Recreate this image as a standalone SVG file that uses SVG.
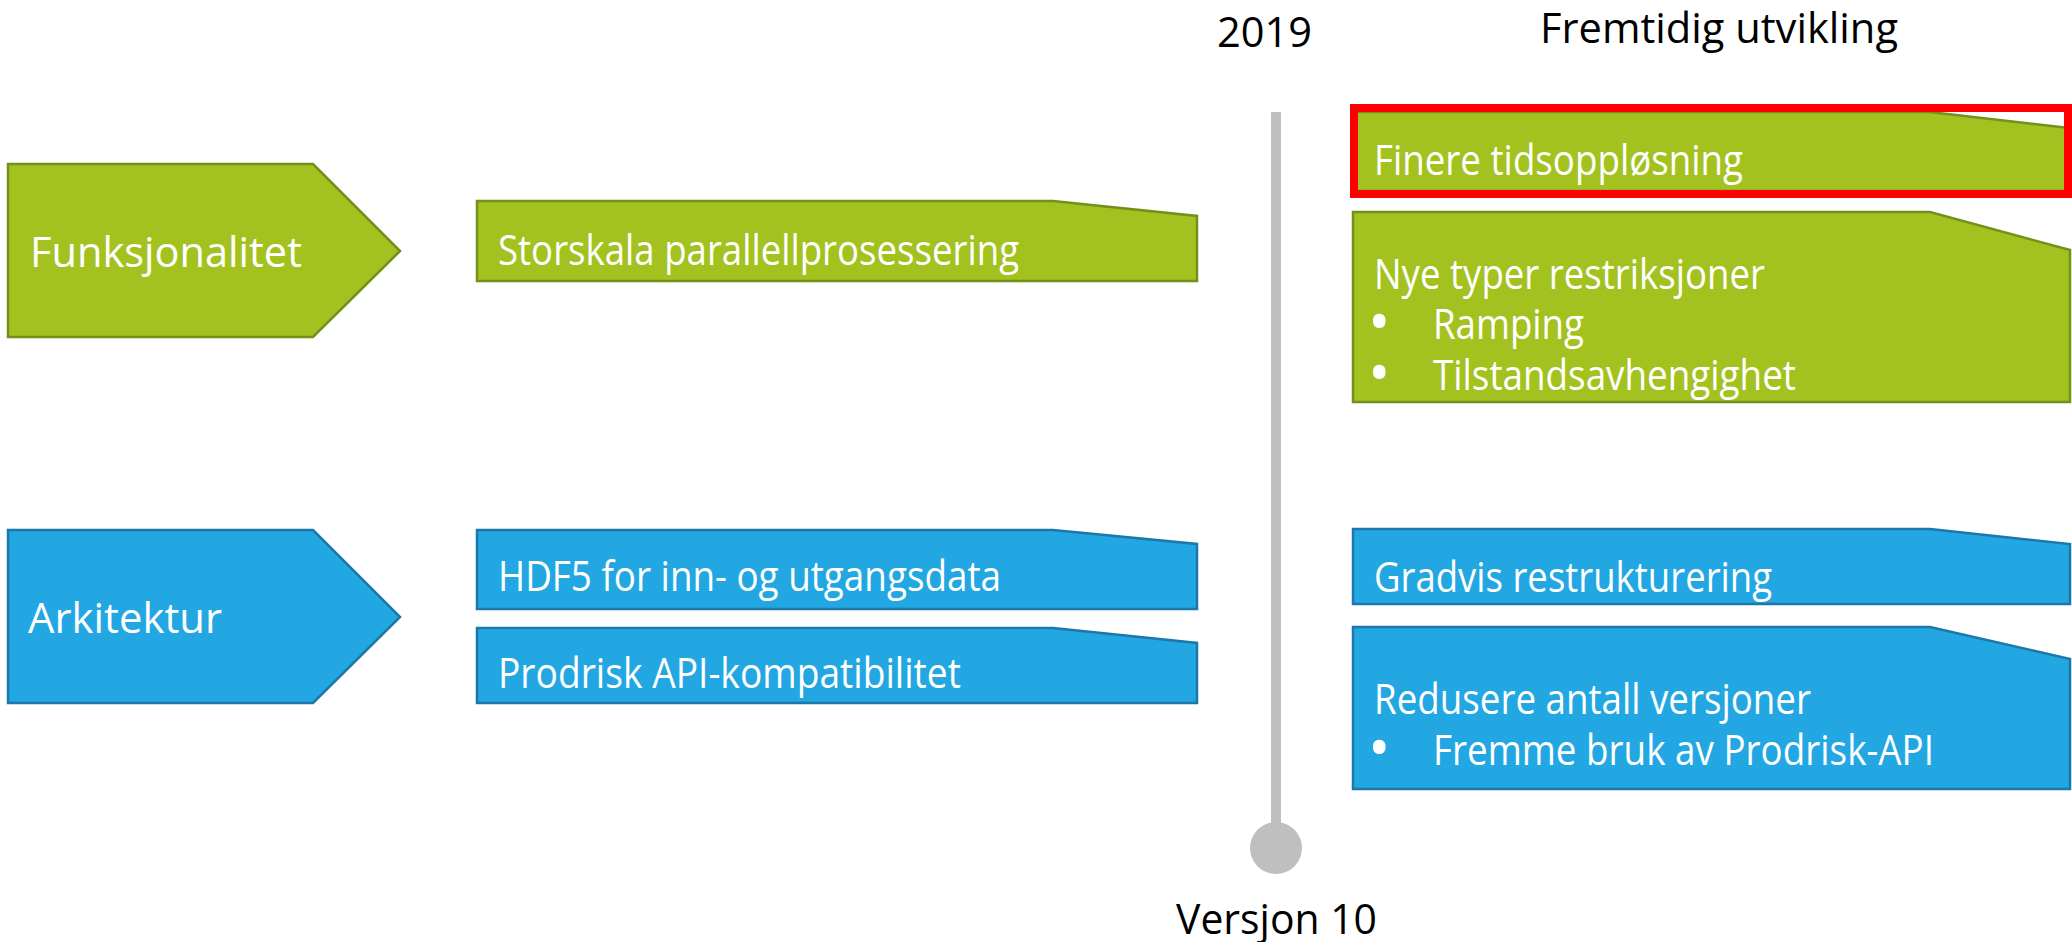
<svg xmlns="http://www.w3.org/2000/svg" width="2072" height="942" viewBox="0 0 2072 942">
<style>
  text { font-family: "Open Sans", "Noto Sans", "Liberation Sans", sans-serif; font-size: 42px; }
  .w { fill: #FFFFFF; }
  .k { fill: #000000; }
  .b { font-size: 60px; }
  .green { fill: #A4C21F; stroke: #72901A; stroke-width: 2.5; stroke-linejoin: miter; }
  .blue { fill: #22A7E3; stroke: #1B78A8; stroke-width: 2.5; stroke-linejoin: miter; }
  .hl { fill: none; stroke: #FF0000; stroke-width: 8; }
  .bar { fill: #BFBFBF; }
</style>
<rect width="2072" height="942" fill="#FFFFFF"/>

<g id="header-2019">
  <text class="k" x="1217" y="47" textLength="95" lengthAdjust="spacingAndGlyphs">2019</text>
</g>
<g id="header-fremtidig">
  <text class="k" x="1540" y="43" textLength="358" lengthAdjust="spacingAndGlyphs">Fremtidig utvikling</text>
</g>

<g id="timeline">
  <rect class="bar" x="1271" y="112" width="10" height="720"/>
  <circle class="bar" cx="1276" cy="848" r="26"/>
  <text class="k" x="1176" y="934" textLength="201" lengthAdjust="spacingAndGlyphs">Versjon 10</text>
</g>

<g id="funksjonalitet">
  <polygon class="green" points="8,164 313,164 400,251 313,337 8,337"/>
  <text class="w" x="30" y="267" textLength="272" lengthAdjust="spacingAndGlyphs">Funksjonalitet</text>
</g>

<g id="arkitektur">
  <polygon class="blue" points="8,530 313,530 400,617 313,703 8,703"/>
  <text class="w" x="28" y="633" textLength="194" lengthAdjust="spacingAndGlyphs">Arkitektur</text>
</g>

<g id="storskala">
  <polygon class="green" points="477,201 1053,201 1197,216 1197,281 477,281"/>
  <text class="w" x="498" y="265" textLength="521" lengthAdjust="spacingAndGlyphs">Storskala parallellprosessering</text>
</g>

<g id="hdf5">
  <polygon class="blue" points="477,530 1053,530 1197,544 1197,609 477,609"/>
  <text class="w" x="498" y="591" textLength="503" lengthAdjust="spacingAndGlyphs">HDF5 for inn- og utgangsdata</text>
</g>

<g id="prodrisk-api">
  <polygon class="blue" points="477,628 1053,628 1197,643 1197,703 477,703"/>
  <text class="w" x="498" y="688" textLength="463" lengthAdjust="spacingAndGlyphs">Prodrisk API-kompatibilitet</text>
</g>

<g id="finere">
  <polygon class="green" points="1353,112 1930,112 2070,128 2070,191 1353,191"/>
  <rect class="hl" x="1354" y="108" width="714" height="86"/>
  <text class="w" x="1374" y="175" textLength="369" lengthAdjust="spacingAndGlyphs">Finere tidsoppløsning</text>
</g>

<g id="nye-typer">
  <polygon class="green" points="1353,212 1930,212 2070,250 2070,402 1353,402"/>
  <text class="w"><tspan x="1374" y="289" textLength="391" lengthAdjust="spacingAndGlyphs">Nye typer restriksjoner</tspan><tspan class="b" x="1368" y="343">•</tspan><tspan x="1433" y="339" textLength="151" lengthAdjust="spacingAndGlyphs">Ramping</tspan><tspan class="b" x="1368" y="394">•</tspan><tspan x="1433" y="390" textLength="363" lengthAdjust="spacingAndGlyphs">Tilstandsavhengighet</tspan></text>
</g>

<g id="gradvis">
  <polygon class="blue" points="1353,529 1930,529 2070,544 2070,604 1353,604"/>
  <text class="w" x="1374" y="592" textLength="398" lengthAdjust="spacingAndGlyphs">Gradvis restrukturering</text>
</g>

<g id="redusere">
  <polygon class="blue" points="1353,627 1930,627 2070,659 2070,789 1353,789"/>
  <text class="w"><tspan x="1374" y="714" textLength="437" lengthAdjust="spacingAndGlyphs">Redusere antall versjoner</tspan><tspan class="b" x="1368" y="769">•</tspan><tspan x="1433" y="765" textLength="501" lengthAdjust="spacingAndGlyphs">Fremme bruk av Prodrisk-API</tspan></text>
</g>

<g id="connectors"></g>
</svg>
